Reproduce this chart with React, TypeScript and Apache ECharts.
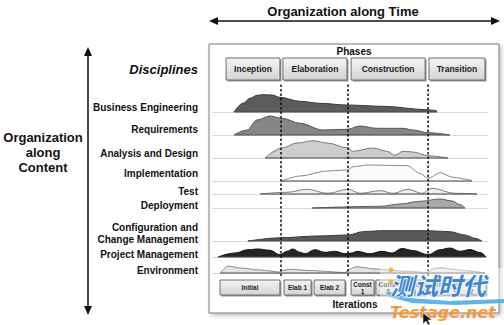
import React, { useEffect, useRef } from 'react';
import * as echarts from 'echarts';

const FONT = "'Liberation Sans', Arial, Helvetica, sans-serif";

const disciplines = [
  'Business Engineering',
  'Requirements',
  'Analysis and Design',
  'Implementation',
  'Test',
  'Deployment',
  'Configuration and\nChange Management',
  'Project Management',
  'Environment',
];

// time axis 0..100, effort values (arbitrary units)
const beT = [8, 11.2, 13.8, 16.3, 18.5, 21.7, 24.6, 31.9, 39.1, 48.9, 62, 77.9, 81.2, 81.5];
const beV = [0, 8.7, 13.7, 16.7, 17.3, 17, 14.7, 10.7, 8.7, 7, 5.7, 2.3, 1.5, 0];
const reqT = [8, 12.7, 16.3, 21, 25.4, 31.9, 40.2, 48.9, 53.6, 59.8, 69.2, 72.8, 78.3, 86.2];
const reqV = [0, 5, 15, 19, 16.7, 11.7, 5, 5.7, 9, 6.7, 6.7, 5, 2.3, 0];
const adT = [19.2, 25.4, 30.8, 36.6, 41.7, 49.3, 51.1, 58.3, 63.4, 66.3, 69.2, 72.8, 78.3, 85.5];
const adV = [0, 10, 15, 17.3, 15, 10, 6.7, 10, 6.7, 2.7, 6.7, 6, 2.3, 0];
const implT = [25, 31.9, 41.7, 48.9, 51.1, 56.2, 70.7, 75.4, 78.3, 82.6, 87.3, 92.4, 94.2];
const implV = [0, 5, 10, 11, 14.3, 16, 15.3, 7.7, 2.7, 8.3, 3.7, 1.7, 0];
const testT = [17.4, 27.2, 34.4, 42, 49.3, 53.6, 60.9, 65.6, 71, 76.1, 79.7, 88, 96];
const testV = [0, 1.7, 4.7, 0.7, 4.7, 0.7, 3.3, 0.7, 4.7, 0.7, 5.7, 0.7, 0];
const deplT = [36.2, 60.9, 68.1, 75.4, 82.6, 87, 89.9, 91.7];
const deplV = [0, 1.7, 4, 6.7, 9, 7, 3.3, 0];
const ccmT = [13, 25.4, 38, 49.3, 54.7, 60.9, 78.3, 86.2, 91.7, 95.3, 97.8];
const ccmV = [0, 3.3, 5, 6, 9.3, 10.3, 10.3, 9.3, 6, 2.7, 0];
const pmT = [2.2, 8.3, 13, 16.7, 21, 24.6, 27.2, 29.3, 31.9, 33.7, 37.3, 40.9, 44.6, 48.2, 50.7, 52.5, 57.2, 61.6, 65.2, 68.8, 72.8, 78.3, 82.6, 86.2, 89.9, 93.5, 97.1, 99.3];
const pmV = [0, 4, 7.3, 8, 6.7, 2.3, 5.7, 8, 4.7, 3.3, 7.3, 4.7, 5.7, 3.3, 4, 5.7, 3.3, 5.7, 4, 8.5, 6.5, 2.3, 7.3, 9, 5.7, 7.5, 4.5, 0];
const envT = [2.9, 5.8, 10.1, 17.4, 24.6, 25.4, 28.3, 35.5, 48.2, 50, 52.2, 59.1, 68.1, 78.3, 79.7, 82.6, 93.5, 98.9];
const envV = [0, 7, 5, 3, 1, 2.5, 3.7, 2.5, 0.5, 4, 6.3, 4, 2, 0.5, 4, 5, 2, 0];

const phaseNames = ['Inception', 'Elaboration', 'Construction', 'Transition'];
const phaseStart = [5.1, 25.7, 50.4, 78.6];
const phaseEnd = [24.6, 48.9, 77.2, 98.9];
const phaseBounds = [25, 49.3, 78.3];

const iterNames = ['Initial', 'Elab 1', 'Elab 2', 'Const\n1', 'Const\n2', 'Const\nN', 'Tran\n1', 'Tran\n2'];
const iterStart = [2.9, 26.1, 37, 50.4, 59.4, 68.8, 78.6, 88.8];
const iterEnd = [24.6, 35.9, 48.2, 58.7, 68.1, 77.2, 88, 99.3];

// styling / layout
const rowData = [
  { t: beT, v: beV, fill: '#5c5c5c', line: '#3a3a3a', smooth: 0.35 },
  { t: reqT, v: reqV, fill: '#868686', line: '#555555', smooth: 0.35 },
  { t: adT, v: adV, fill: '#cdcdcd', line: '#7a7a7a', smooth: 0.35 },
  { t: implT, v: implV, fill: '#fbfbfb', line: '#8a8a8a', smooth: 0.3 },
  { t: testT, v: testV, fill: '#efefef', line: '#7e7e7e', smooth: 0.4 },
  { t: deplT, v: deplV, fill: '#a9a9a9', line: '#5e5e5e', smooth: 0.35 },
  { t: ccmT, v: ccmV, fill: '#585858', line: '#3a3a3a', smooth: 0.35 },
  { t: pmT, v: pmV, fill: '#262626', line: '#141414', smooth: 0.4 },
  { t: envT, v: envV, fill: '#e3e3e3', line: '#8a8a8a', smooth: 0.2 },
];
const rowBaseY = [112, 135, 158, 181, 194, 208, 241, 257, 273];
const labelY = [107, 129, 153, 173, 191, 205, 233, 254, 270];
const GRID_L = 212;
const GRID_R = 16;
const ROW_H = 30;

function boxRenderer(labels: string[], font: string, lineH: number) {
  return (params: any, api: any) => {
    const a = api.coord([api.value(0), 1]);
    const b = api.coord([api.value(1), 0]);
    const w = b[0] - a[0];
    const h = b[1] - a[1];
    return {
      type: 'group',
      children: [
        { type: 'rect', shape: { x: a[0] + 1.5, y: a[1] + 1.5, width: w, height: h }, style: { fill: '#8e8e8e' } },
        {
          type: 'rect',
          shape: { x: a[0], y: a[1], width: w, height: h },
          style: {
            fill: {
              type: 'linear', x: 0, y: 0, x2: 0, y2: 1,
              colorStops: [{ offset: 0, color: '#f4f4f4' }, { offset: 1, color: '#d4d4d4' }],
            },
            stroke: '#6e6e6e',
            lineWidth: 1,
          },
        },
        {
          type: 'text',
          x: a[0] + w / 2,
          y: a[1] + h / 2,
          style: {
            text: labels[params.dataIndex],
            font,
            fill: '#1a1a1a',
            align: 'center',
            verticalAlign: 'middle',
            textAlign: 'center',
            textVerticalAlign: 'middle',
            lineHeight: lineH,
          },
        },
      ],
    };
  };
}

export default function App() {
  const ref = useRef<HTMLDivElement>(null);
  useEffect(() => {
    if (!ref.current) return;
    const chart = echarts.init(ref.current, undefined, { renderer: 'svg' });

    const grids: any[] = [];
    const xAxes: any[] = [];
    const yAxes: any[] = [];
    const series: any[] = [];

    rowData.forEach((r, i) => {
      grids.push({ left: GRID_L, right: GRID_R, top: rowBaseY[i] - ROW_H, height: ROW_H });
      xAxes.push({
        type: 'value', gridIndex: i, min: 0, max: 100,
        axisLine: { show: true, lineStyle: { color: '#dadada', width: 1 } },
        axisTick: { show: false }, axisLabel: { show: false }, splitLine: { show: false },
      });
      yAxes.push({ type: 'value', gridIndex: i, min: 0, max: ROW_H, show: false });
      series.push({
        type: 'line', xAxisIndex: i, yAxisIndex: i,
        data: r.t.map((t, k) => [t, r.v[k]]),
        smooth: r.smooth, smoothMonotone: 'x', symbol: 'none', clip: false, z: 3,
        lineStyle: { color: r.line, width: 1 },
        areaStyle: { color: r.fill, opacity: 1, origin: 'start' },
      });
      series.push({
        type: 'line', xAxisIndex: i, yAxisIndex: i,
        data: [[r.t[0], 0], [r.t[r.t.length - 1], 0]],
        symbol: 'none', clip: false, z: 3,
        lineStyle: { color: '#4a4a4a', width: 1.2 },
      });
    });

    // dashed phase boundaries
    const dg = grids.length;
    grids.push({ left: GRID_L, right: GRID_R, top: 84, height: 192 });
    xAxes.push({ type: 'value', gridIndex: dg, min: 0, max: 100, show: false });
    yAxes.push({ type: 'value', gridIndex: dg, min: 0, max: 1, show: false });
    phaseBounds.forEach((b) => {
      series.push({
        type: 'line', xAxisIndex: dg, yAxisIndex: dg, data: [[b, 0], [b, 1]],
        symbol: 'none', z: 6, lineStyle: { color: '#111', width: 1.5, type: [2.5, 2] },
      });
    });

    // phase boxes
    const pg = grids.length;
    grids.push({ left: GRID_L, right: GRID_R, top: 58, height: 22 });
    xAxes.push({ type: 'value', gridIndex: pg, min: 0, max: 100, show: false });
    yAxes.push({ type: 'value', gridIndex: pg, min: 0, max: 1, show: false });
    series.push({
      type: 'custom', xAxisIndex: pg, yAxisIndex: pg, clip: false,
      data: phaseStart.map((s, i) => [s, phaseEnd[i]]),
      encode: { x: [0, 1] },
      renderItem: boxRenderer(phaseNames, `bold 8.5px ${FONT}`, 10),
    });

    // iteration boxes
    const ig = grids.length;
    grids.push({ left: GRID_L, right: GRID_R, top: 280, height: 15 });
    xAxes.push({ type: 'value', gridIndex: ig, min: 0, max: 100, show: false });
    yAxes.push({ type: 'value', gridIndex: ig, min: 0, max: 1, show: false });
    series.push({
      type: 'custom', xAxisIndex: ig, yAxisIndex: ig, clip: false,
      data: iterStart.map((s, i) => [s, iterEnd[i]]),
      encode: { x: [0, 1] },
      renderItem: boxRenderer(iterNames, `bold 6.5px ${FONT}`, 7),
    });

    const txt = (text: string, x: number, y: number, font: string, align = 'center', extra: any = {}) => ({
      type: 'text', x, y,
      style: { text, font, fill: '#111', align, verticalAlign: 'middle', textAlign: align, textVerticalAlign: 'middle', ...extra },
    });

    const graphic: any[] = [
      {
        type: 'rect', z: 0, shape: { x: 209, y: 44, width: 290, height: 269 },
        style: { fill: '#fff', stroke: '#7a7a7a', lineWidth: 1, shadowBlur: 4, shadowOffsetX: 2, shadowOffsetY: 2, shadowColor: 'rgba(0,0,0,0.25)' },
      },
      // time arrow
      { type: 'line', shape: { x1: 215, y1: 21, x2: 494, y2: 21 }, style: { stroke: '#111', lineWidth: 1.5 } },
      { type: 'polygon', shape: { points: [[209, 21], [218, 17], [218, 25]] }, style: { fill: '#111' } },
      { type: 'polygon', shape: { points: [[500, 21], [491, 17], [491, 25]] }, style: { fill: '#111' } },
      txt('Organization along Time', 343, 11, `bold 13px ${FONT}`),
      // content arrow
      { type: 'line', shape: { x1: 88, y1: 54, x2: 88, y2: 308 }, style: { stroke: '#111', lineWidth: 1.5 } },
      { type: 'polygon', shape: { points: [[88, 47], [84, 56], [92, 56]] }, style: { fill: '#111' } },
      { type: 'polygon', shape: { points: [[88, 315], [84, 306], [92, 306]] }, style: { fill: '#111' } },
      txt('Organization\nalong\nContent', 43, 152, `bold 13px ${FONT}`, 'center', { lineHeight: 15 }),
      txt('Disciplines', 198, 69, `italic bold 13px ${FONT}`, 'right'),
      txt('Phases', 354, 51, `bold 10px ${FONT}`),
      txt('Iterations', 355, 304, `bold 10px ${FONT}`),
      ...disciplines.map((d, i) => txt(d, 198, labelY[i], `bold 10px ${FONT}`, 'right', { lineHeight: 12 })),
      // watermark
      { type: 'rect', z: 40, shape: { x: 380, y: 268, width: 124, height: 34 }, style: { fill: 'rgba(255,255,255,0.45)' } },
      {
        type: 'polygon', z: 41,
        shape: { points: [[386, 291], [410, 298], [450, 301], [504, 299], [504, 303], [455, 305], [412, 303], [390, 297]] },
        style: { fill: '#58b6ec' },
      },
      { type: 'circle', z: 42, shape: { cx: 391, cy: 270, r: 2.5 }, style: { fill: '#f3b33d' } },
      { type: 'circle', z: 42, shape: { cx: 391, cy: 282, r: 2.5 }, style: { fill: '#f3b33d' } },
      {
        type: 'text', z: 43, x: 438, y: 284,
        style: {
          text: '测试时代', font: "italic bold 24px 'Noto Sans CJK SC'", fill: '#3d86d4',
          align: 'center', verticalAlign: 'middle', textAlign: 'center', textVerticalAlign: 'middle',
          stroke: '#ffffff', lineWidth: 1.5,
        },
      },
      {
        type: 'text', z: 43, x: 443, y: 312,
        style: {
          text: 'Testage.net', font: "italic bold 16px 'DejaVu Sans'", fill: '#f39a3a',
          align: 'center', verticalAlign: 'middle', textAlign: 'center', textVerticalAlign: 'middle',
        },
      },
      {
        type: 'polygon', z: 44,
        shape: { points: [[423, 313], [423, 324], [426, 321], [428, 325], [430, 324], [428, 320], [432, 320]] },
        style: { fill: '#111', stroke: '#fff', lineWidth: 0.5 },
      },
    ];

    chart.setOption({
      animation: false,
      grid: grids,
      xAxis: xAxes,
      yAxis: yAxes,
      series,
      graphic,
    });
    return () => chart.dispose();
  }, []);
  return <div ref={ref} style={{ position: 'fixed', left: 0, top: 0, width: 504, height: 325, background: '#fff' }} />;
}
